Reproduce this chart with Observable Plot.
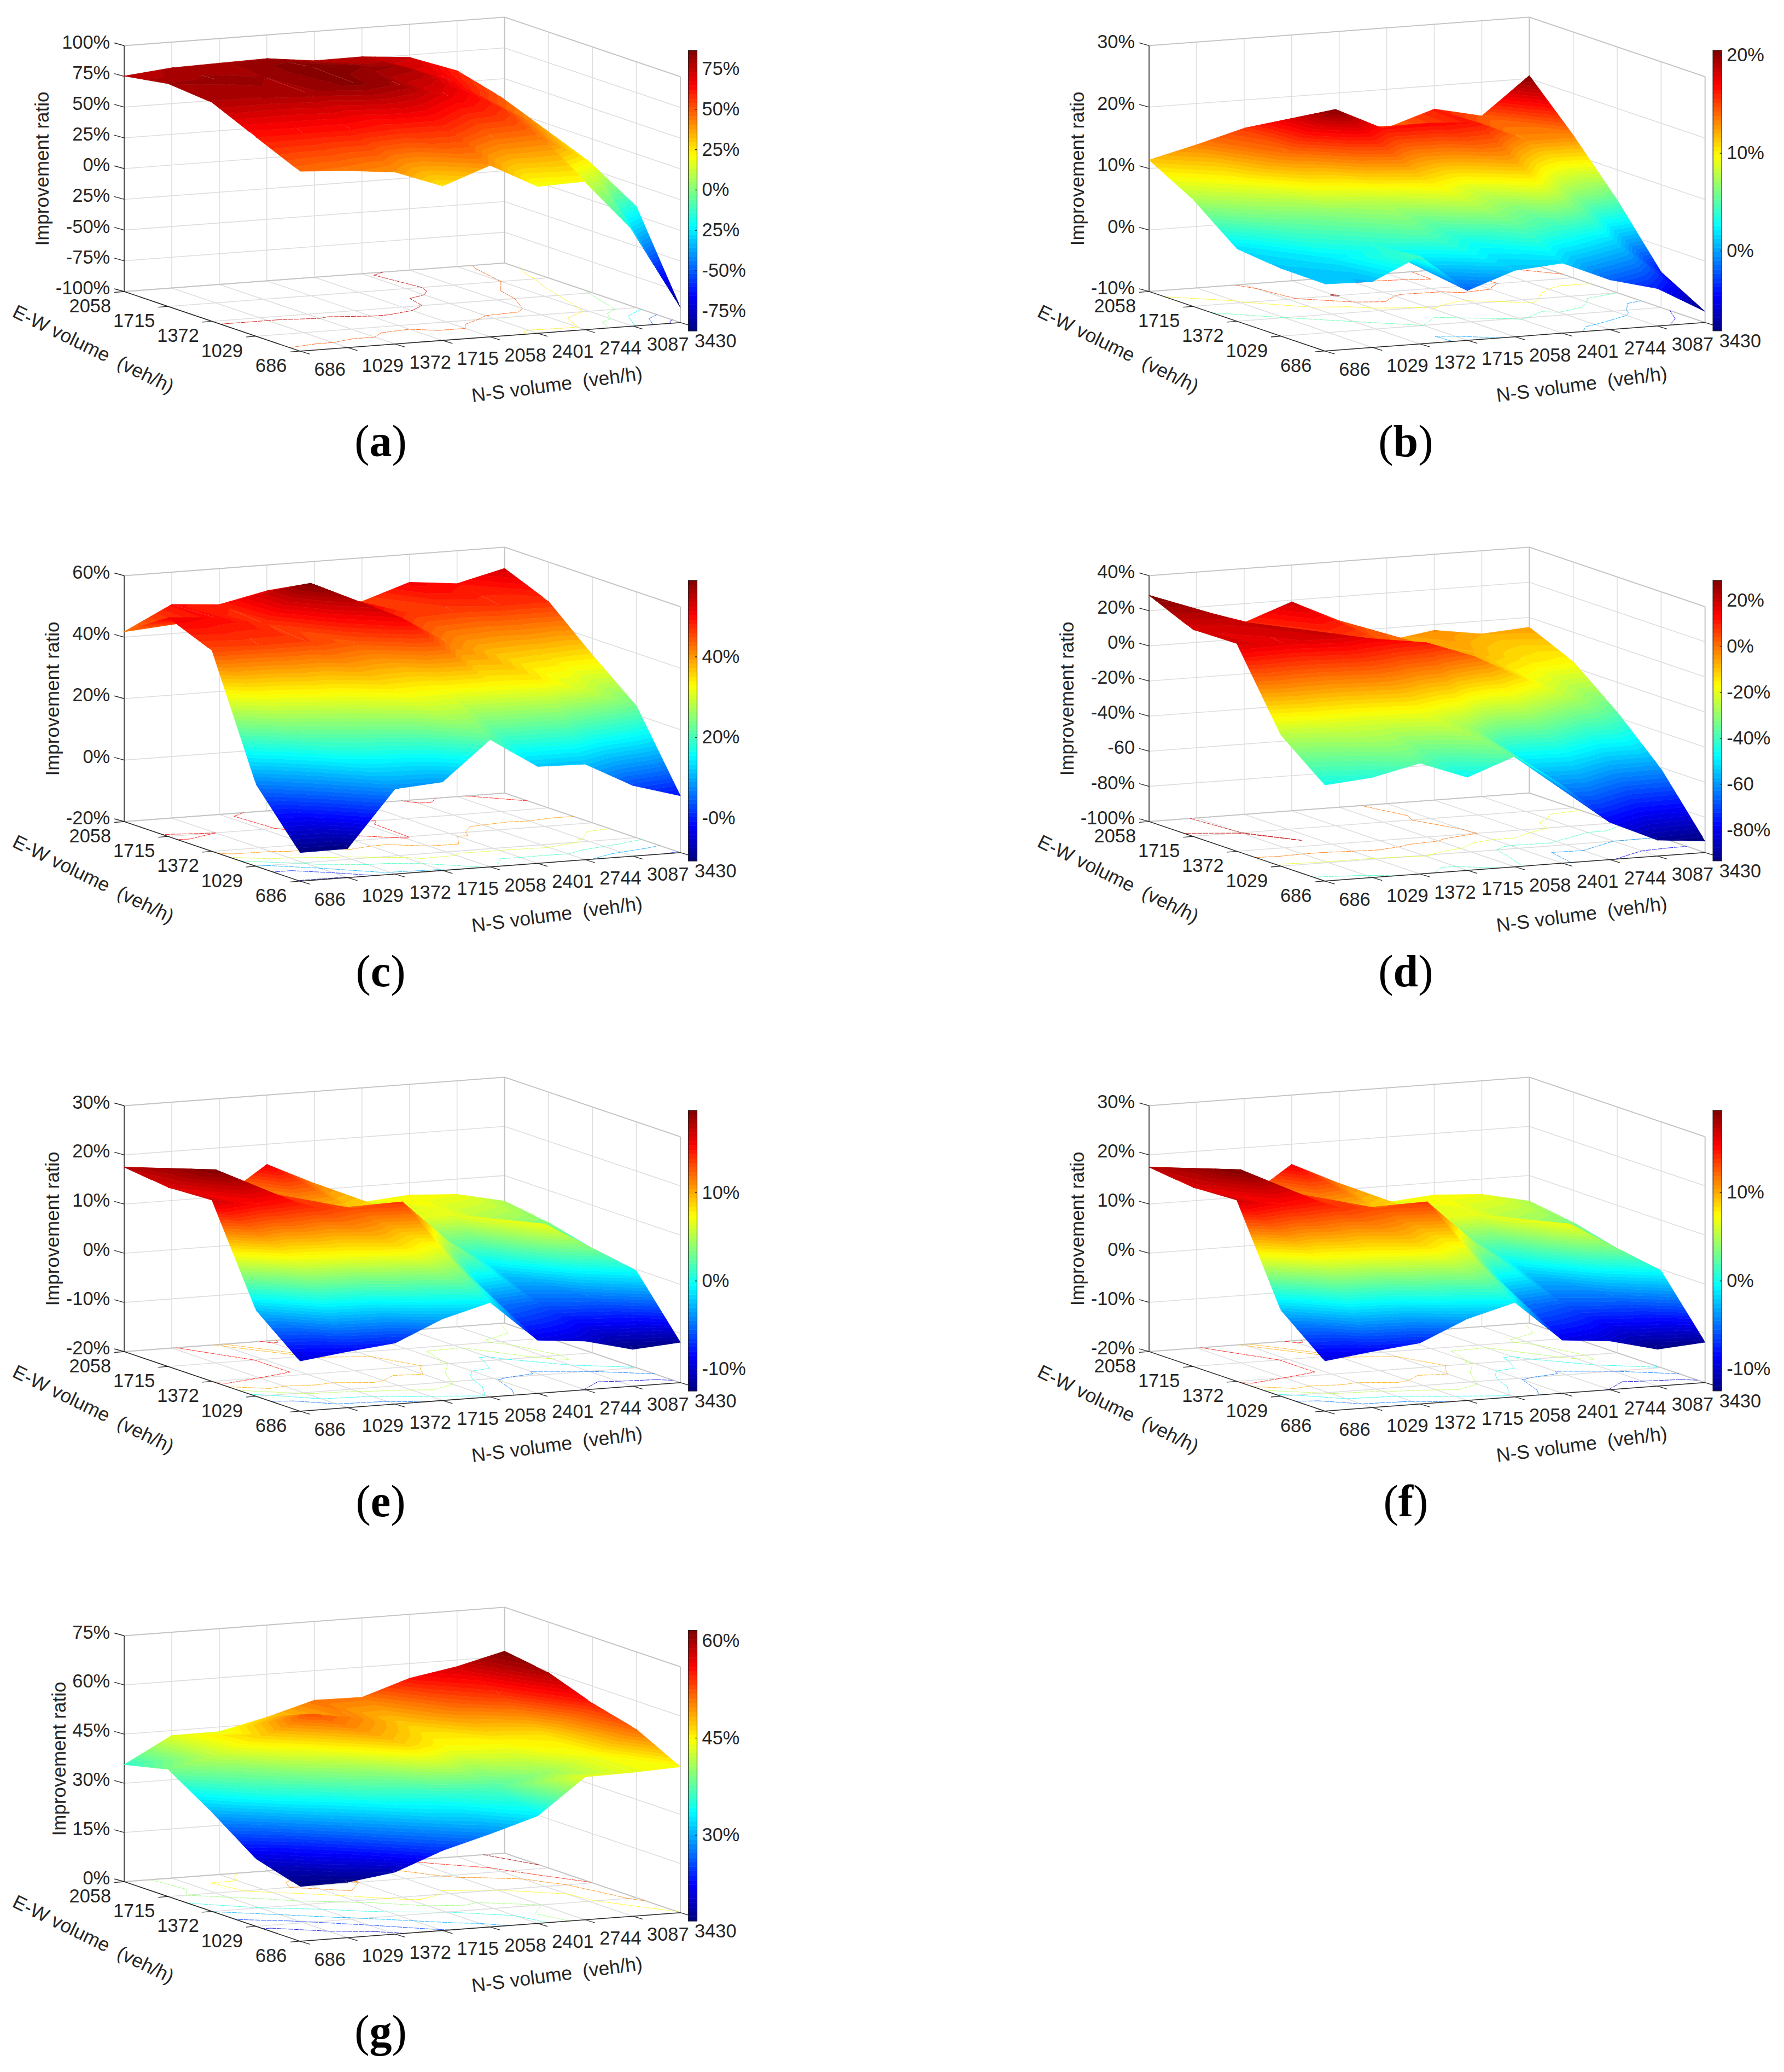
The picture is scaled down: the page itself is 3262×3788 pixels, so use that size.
<!DOCTYPE html>
<html><head><meta charset="utf-8">
<script src="https://cdn.jsdelivr.net/npm/d3@7"></script>
<script src="https://cdn.jsdelivr.net/npm/@observablehq/plot@0.6"></script>
<style>
html,body{margin:0;padding:0;background:#fff;}
#page{position:relative;width:3262px;height:3788px;background:#fff;overflow:hidden;}
.panel{position:absolute;}
.tag{position:absolute;font-family:"Liberation Serif",serif;font-size:82px;line-height:82px;color:#000;transform:translateX(-50%);white-space:pre;}
</style></head><body><div id="page"></div>
<script>
// Grid axes
const nsVolumes = [686,1029,1372,1715,2058,2401,2744,3087,3430];
const ewVolumes = [686,1029,1372,1715,2058];
const nsTickLabels = ["686","1029","1372","1715","2058","2401","2744","3087","3430"];
const ewTickLabels = ["686","1029","1372","1715","2058"];

// Improvement ratio (%) : one row per E-W volume, one column per N-S volume
const surfaceA = [
 [46.3,43.9,39.8,25.6,39.5,19.4,20.7,-22,-87.5],
 [62,62,62,58,58,46,44,22,-17.7],
 [78,78,80,85,80,68,58,36,-3],
 [81.2,82,81,86.4,84,80,65,50,15],
 [75.3,79.1,80,80.8,76.2,76.5,73.1,59.3,30]];
const surfaceB = [
 [0.9,0.7,4.3,-1.9,0.8,1.4,-1.9,-3.9,-8.2],
 [1,2,3.5,5,3,5.3,3.7,1.6,-4.2],
 [1.8,5,6.5,8,10.5,8.5,11.5,7.2,5.1],
 [7.4,9.5,14,20.3,16.6,16.9,16.4,13,13.2],
 [11.4,13.3,15.4,16.2,14,13.7,16.2,14.5,20.5]];
const surfaceC = [
 [-10.7,-10.6,7.7,8.8,21.4,11.5,11.1,3,-1.5],
 [6.7,22,27,33,32.5,33,34,29,22.9],
 [45.3,46,46,44,51.2,41.5,37,36,34.6],
 [51.2,50,47.1,58.9,51.8,47,46,47,47.2],
 [41.8,49.5,48.3,51.6,48,45.8,50.9,49.3,53.1]];
const surfaceD = [
 [-45.3,-43,-36.9,-47,-37,-55.8,-78.8,-90.9,-93.5],
 [-25.3,-22,-22,-19,-29,-49.4,-48,-60,-60.9],
 [18.2,16,19.9,14.3,10.6,0.7,-13.6,-26,-37],
 [17.7,20.2,12,8,3,-2,-8,-14,-16.7],
 [28.8,18.6,9.2,19,6.2,-7.3,-3.3,-7.4,-5.6]];
const surfaceE = [
 [-9.8,-8.6,-7.6,-3.4,-0.8,-9.2,-10.1,-12.5,-11.8],
 [-2.5,6,7,8.5,6,-4.6,-6,-5,-0.3],
 [16.8,15,14,12.9,13.6,4.6,-1.8,6.9,1.2],
 [16.4,19.3,14,9.5,8.5,7,6.5,4.5,3.5],
 [17.5,15.5,9.4,15.9,11.3,6.7,7.5,6.9,4.8]];
const surfaceF = [
 [-9.8,-8.6,-7.6,-3.4,-0.8,-9.2,-10.1,-12.5,-11.8],
 [-2.5,6,7,8.5,6,-4.6,-6,-5,-0.3],
 [16.8,15,14,12.9,13.6,4.6,-1.8,6.9,1.2],
 [16.4,19.3,14,9.5,8.5,7,6.5,4.5,3.5],
 [17.5,15.5,9.4,15.9,11.3,6.7,7.5,6.9,4.8]];
const surfaceG = [
 [16.7,16.9,18.9,24.4,28.4,32.8,43.6,43.9,44.5],
 [20.6,24,29,33,35,37,40,44,51.4],
 [30.2,35,38,41,47,44.5,45,46,54.8],
 [38.8,42,47,52.4,50,47,51,54,59.6],
 [35.7,43.5,43.6,46.9,51,50.8,55.5,58,61.6]];

// Vertical axis ticks
const zTicksA = [-100,-75,-50,-25,0,25,50,75,100];
const zLabelsA = ["-100%","-75%","-50%","25%","0%","25%","50%","75%","100%"];
const zTicksB = [-10,0,10,20,30];
const zLabelsB = ["-10%","0%","10%","20%","30%"];
const zTicksC = [-20,0,20,40,60];
const zLabelsC = ["-20%","0%","20%","40%","60%"];
const zTicksD = [-100,-80,-60,-40,-20,0,20,40];
const zLabelsD = ["-100%","-80%","-60","-40%","-20%","0%","20%","40%"];
const zTicksE = [-20,-10,0,10,20,30];
const zLabelsE = ["-20%","-10%","0%","10%","20%","30%"];
const zTicksG = [0,15,30,45,60,75];
const zLabelsG = ["0%","15%","30%","45%","60%","75%"];

// Colour bar ticks
const barTicksA = [-75,-50,-25,0,25,50,75];
const barLabelsA = ["-75%","-50%","25%","0%","25%","50%","75%"];
const barTicksB = [0,10,20];
const barLabelsB = ["0%","10%","20%"];
const barTicksC = [0,20,40];
const barLabelsC = ["-0%","20%","40%"];
const barTicksD = [-80,-60,-40,-20,0,20];
const barLabelsD = ["-80%","-60","-40%","-20%","0%","20%"];
const barTicksE = [-10,0,10];
const barLabelsE = ["-10%","0%","10%"];
const barTicksG = [30,45,60];
const barLabelsG = ["30%","45%","60%"];

const panels = [
 {tag:"a",col:0,row:0,data:surfaceA,zd:[-100,100],zt:zTicksA,zl:zLabelsA,bt:barTicksA,bl:barLabelsA,step:25},
 {tag:"b",col:1,row:0,data:surfaceB,zd:[-10,30],zt:zTicksB,zl:zLabelsB,bt:barTicksB,bl:barLabelsB,step:5},
 {tag:"c",col:0,row:1,data:surfaceC,zd:[-20,60],zt:zTicksC,zl:zLabelsC,bt:barTicksC,bl:barLabelsC,step:10},
 {tag:"d",col:1,row:1,data:surfaceD,zd:[-100,40],zt:zTicksD,zl:zLabelsD,bt:barTicksD,bl:barLabelsD,step:20},
 {tag:"e",col:0,row:2,data:surfaceE,zd:[-20,30],zt:zTicksE,zl:zLabelsE,bt:barTicksE,bl:barLabelsE,step:5},
 {tag:"f",col:1,row:2,data:surfaceF,zd:[-20,30],zt:zTicksE,zl:zLabelsE,bt:barTicksE,bl:barLabelsE,step:5},
 {tag:"g",col:0,row:3,data:surfaceG,zd:[0,75],zt:zTicksG,zl:zLabelsG,bt:barTicksG,bl:barLabelsG,step:5,barTop:73.5}
];

// Layout of a panel
const W = 1388, H = 969, COL = 1874.4;
const FONT = "Liberation Sans, Arial, sans-serif", FS = 34.4, LABEL_FS = 35.4, INK = "#262626";
const GRID = "#dedede", EDGE = "#c4c4c4";
const jetStops = d3.scaleLinear().domain([0,1/8,3/8,5/8,7/8,1])
  .range(["#00007f","#0000ff","#00ffff","#ffff00","#ff0000","#7f0000"]).interpolate(d3.interpolateRgb);
const LEVELS = 64;

function textWidthEm(s){let w=0;for(const c of s)w+=c==="%"?0.889:c==="-"?0.333:0.556;return w;}

function buildPanel(p){
  const [z0,z1] = p.zd;
  const nsMin=nsVolumes[0], nsMax=nsVolumes[nsVolumes.length-1];
  const ewMin=ewVolumes[0], ewMax=ewVolumes[ewVolumes.length-1];
  const project=(ns,ew,z)=>{
    const u=(ns-nsMin)/(nsMax-nsMin), v=(ew-ewMin)/(ewMax-ewMin), w=(z-z0)/(z1-z0);
    return [548+695.5*u-321.4*v, 641.4-52.2*u-108.9*v-449.5*w];
  };
  const vmin=d3.min(p.data.flat()), vmax=d3.max(p.data.flat());
  const seg=(a,b,extra={})=>{const [x1,y1]=project(...a),[x2,y2]=project(...b);return {x1,y1,x2,y2,...extra};};

  // triangles back to front
  const tris=[];
  for(let i=nsVolumes.length-2;i>=0;i--) for(let j=ewVolumes.length-2;j>=0;j--){
    const V=(a,b)=>[nsVolumes[a],ewVolumes[b],p.data[b][a]];
    tris.push([V(i+1,j),V(i,j+1),V(i+1,j+1)]);
    tris.push([V(i,j),V(i+1,j),V(i,j+1)]);
  }
  const clip=(poly,f)=>{ // keep where f>=0
    const out=[];
    for(let k=0;k<poly.length;k++){
      const a=poly[k],b=poly[(k+1)%poly.length],fa=f(a),fb=f(b);
      if(fa>=0)out.push(a);
      if((fa>=0)!==(fb>=0)){const t=fa/(fa-fb);out.push(a.map((c,m)=>c+(b[m]-c)*t));}
    }
    return out;
  };
  const bandPts=[]; let id=0;
  const dz=(vmax-vmin)/LEVELS;
  for(const t of tris){
    const lo=d3.min(t,d=>d[2]),hi=d3.max(t,d=>d[2]);
    const k0=Math.max(0,Math.floor((lo-vmin)/dz)),k1=Math.min(LEVELS-1,Math.floor((hi-vmin)/dz));
    for(let k=k0;k<=k1;k++){
      const a=vmin+k*dz,b=a+dz;
      let poly=clip(t,d=>d[2]-a); poly=clip(poly,d=>b-d[2]);
      if(poly.length<3)continue;
      const value=a+dz/2; id++;
      for(const q of poly){const [x,y]=project(...q);bandPts.push({x,y,id,value});}
    }
  }
  // floor contours
  const contours=[];
  const first=Math.ceil(vmin/p.step)*p.step;
  for(let lv=first;lv<=vmax;lv+=p.step){
    for(const t of tris){
      const pts=[];
      for(let k=0;k<3;k++){
        const a=t[k],b=t[(k+1)%3];
        if((a[2]>=lv)!==(b[2]>=lv)){const s=(lv-a[2])/(b[2]-a[2]);pts.push([a[0]+(b[0]-a[0])*s,a[1]+(b[1]-a[1])*s,z0]);}
      }
      if(pts.length===2)contours.push(seg(pts[0],pts[1],{lv}));
    }
  }
  // grid lines
  const grid=[];
  for(const n of nsVolumes){
    grid.push(seg([n,ewMin,z0],[n,ewMax,z0]));
    grid.push(seg([n,ewMax,z0],[n,ewMax,z1]));
  }
  for(const e of ewVolumes){
    grid.push(seg([nsMin,e,z0],[nsMax,e,z0]));
    grid.push(seg([nsMax,e,z0],[nsMax,e,z1]));
  }
  for(const z of p.zt){
    grid.push(seg([nsMin,ewMax,z],[nsMax,ewMax,z]));
    grid.push(seg([nsMax,ewMax,z],[nsMax,ewMin,z]));
  }
  const edges=[
    seg([nsMin,ewMax,z1],[nsMax,ewMax,z1]),seg([nsMax,ewMax,z1],[nsMax,ewMin,z1]),
    seg([nsMax,ewMax,z0],[nsMax,ewMax,z1]),seg([nsMax,ewMin,z0],[nsMax,ewMin,z1]),
    seg([nsMin,ewMax,z0],[nsMax,ewMax,z0]),seg([nsMax,ewMax,z0],[nsMax,ewMin,z0])
  ];
  const axes=[
    seg([nsMin,ewMax,z0],[nsMin,ewMax,z1]),
    seg([nsMin,ewMin,z0],[nsMin,ewMax,z0]),
    seg([nsMin,ewMin,z0],[nsMax,ewMin,z0])
  ];
  const tickLines=[];
  const zTickRows=p.zt.map((z,k)=>{const [x,y]=project(nsMin,ewMax,z);tickLines.push({x1:x,y1:y,x2:x-18,y2:y-5});return {x,y,label:p.zl[k]};});
  const ewRows=ewVolumes.map((e,k)=>{const [x,y]=project(nsMin,e,z0);tickLines.push({x1:x,y1:y,x2:x-18,y2:y+1.5});return {x,y,label:ewTickLabels[k]};});
  const nsRows=nsVolumes.map((n,k)=>{const [x,y]=project(n,ewMin,z0);tickLines.push({x1:x,y1:y,x2:x+18,y2:y+5.5});return {x,y,label:nsTickLabels[k]};});

  // colour bar
  const barTop=p.barTop??92, barBot=605, barL=1258.5, barR=1274.5;
  const barY=v=>barBot-(v-vmin)/(vmax-vmin)*(barBot-barTop);
  const barCells=d3.range(LEVELS).map(k=>{const a=vmin+k*dz;return {y1:barY(a),y2:barY(a+dz),value:a+dz/2};});
  const barRows=p.bt.map((v,k)=>({y:barY(v),label:p.bl[k]}));
  const widest=d3.max(p.zl,textWidthEm)*FS;

  const plot=Plot.plot({
    width:W,height:H,margin:0,
    style:{background:"transparent",overflow:"visible"},
    x:{axis:null,domain:[0,W],range:[0,W]},
    y:{axis:null,domain:[0,H],range:[0,H]},
    color:{type:"linear",domain:[vmin,vmax],interpolate:t=>jetStops(t)},
    marks:[
      Plot.link(grid,{x1:"x1",y1:"y1",x2:"x2",y2:"y2",stroke:GRID,strokeWidth:1.6}),
      Plot.link(edges,{x1:"x1",y1:"y1",x2:"x2",y2:"y2",stroke:EDGE,strokeWidth:1.8}),
      Plot.link(contours,{x1:"x1",y1:"y1",x2:"x2",y2:"y2",stroke:"lv",strokeWidth:0.85,strokeDasharray:"9 1.5"}),
      Plot.link(axes,{x1:"x1",y1:"y1",x2:"x2",y2:"y2",stroke:INK,strokeWidth:1.5}),
      Plot.link(tickLines,{x1:"x1",y1:"y1",x2:"x2",y2:"y2",stroke:INK,strokeWidth:1.3}),
      Plot.line(bandPts,{x:"x",y:"y",z:"id",fill:"value",stroke:"value",strokeWidth:0.9,curve:"linear"}),
      Plot.text(zTickRows,{x:"x",y:"y",text:"label",dx:-26,dy:-6,textAnchor:"end",fontFamily:FONT,fontSize:FS,fill:INK}),
      Plot.text(ewRows,{x:"x",y:"y",text:"label",dx:-24,dy:27,textAnchor:"end",fontFamily:FONT,fontSize:FS,fill:INK}),
      Plot.text(nsRows,{x:"x",y:"y",text:"label",dx:26,dy:34,textAnchor:"start",fontFamily:FONT,fontSize:FS,fill:INK}),
      Plot.text([{x:177-widest,y:308}],{x:"x",y:"y",text:()=>"Improvement ratio",rotate:-90,fontFamily:FONT,fontSize:35,fill:INK}),
      Plot.text([{x:170,y:638}],{x:"x",y:"y",text:()=>"E-W volume  (veh/h)",rotate:26,fontFamily:FONT,fontSize:LABEL_FS,fill:INK}),
      Plot.text([{x:1018,y:703}],{x:"x",y:"y",text:()=>"N-S volume  (veh/h)",rotate:-7.5,fontFamily:FONT,fontSize:LABEL_FS,fill:INK}),
      Plot.rect(barCells,{x1:barL,x2:barR,y1:"y1",y2:"y2",fill:"value",stroke:"value",strokeWidth:0.5}),
      Plot.rect([{y1:barTop,y2:barBot}],{x1:barL,x2:barR,y1:"y1",y2:"y2",fill:"none",stroke:INK,strokeWidth:1.2}),
      Plot.link(barRows,{x1:barR-4,x2:barR,y1:"y",y2:"y",stroke:INK,strokeWidth:1.3}),
      Plot.text(barRows,{x:barR+8.5,y:"y",text:"label",textAnchor:"start",fontFamily:FONT,fontSize:FS,fill:INK})
    ]
  });
  const holder=document.createElement("div");
  holder.className="panel";
  holder.style.left=(p.col*COL)+"px";
  holder.style.top=(p.row*968.9)+"px";
  holder.appendChild(plot);
  const tag=document.createElement("div");
  tag.className="tag";
  tag.style.left="696px"; tag.style.top="766px";
  tag.innerHTML="(<b>"+p.tag+"</b>)";
  holder.appendChild(tag);
  document.getElementById("page").appendChild(holder);
}
panels.forEach(buildPanel);
</script></body></html>
